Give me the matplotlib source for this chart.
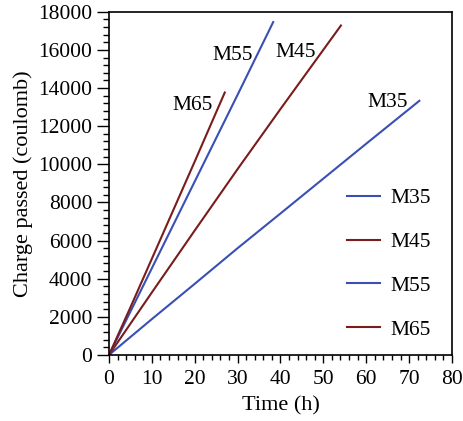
import matplotlib
matplotlib.use("Agg")
import matplotlib.pyplot as plt
from matplotlib.ticker import MultipleLocator

plt.rcParams['font.family'] = ['Liberation Serif', 'DejaVu Serif']

# time (h) and charge passed (coulomb) for each mix
t_m35 = [0, 10, 20, 30, 40, 50, 60, 72.4]
q_m35 = [0, 1880, 3730, 5600, 7420, 9250, 11080, 13330]
t_m45 = [0, 10, 20, 30, 40, 54.1]
q_m45 = [0, 3280, 6530, 9750, 12900, 17280]
t_m55 = [0, 10, 20, 30, 38.3]
q_m55 = [0, 4550, 9100, 13650, 17460]
t_m65 = [0, 5, 10, 15, 20, 27.0]
q_m65 = [0, 2500, 5050, 7600, 10150, 13765]

names = ['M35', 'M45', 'M55', 'M65']
blue = '#3a4fb4'
red = '#7a1c1c'

fig = plt.figure(figsize=(4.64, 4.21), dpi=100)
ax = fig.add_axes([0.235, 0.157, 0.739, 0.815])

ax.plot(t_m35, q_m35, color=blue, lw=1.5, label=names[0])
ax.plot(t_m45, q_m45, color=red, lw=1.5, label=names[1])
ax.plot(t_m55, q_m55, color=blue, lw=1.5, label=names[2])
ax.plot(t_m65, q_m65, color=red, lw=1.5, label=names[3])

# curve labels near line ends
ax.text(69.7, 13010, 'M35', ha='right', va='baseline', fontsize=15.5)
ax.text(48.3, 15640, 'M45', ha='right', va='baseline', fontsize=15.5)
ax.text(33.6, 15480, 'M55', ha='right', va='baseline', fontsize=15.5)
ax.text(24.3, 12860, 'M65', ha='right', va='baseline', fontsize=15.5)

ax.set_xlim(0, 80)
ax.set_ylim(0, 18000)
ax.xaxis.set_major_locator(MultipleLocator(10))
ax.xaxis.set_minor_locator(MultipleLocator(2))
ax.yaxis.set_major_locator(MultipleLocator(2000))
ax.yaxis.set_minor_locator(MultipleLocator(400))
ax.tick_params(which='both', direction='out', width=1, labelsize=15.5)
ax.tick_params(axis='x', which='major', length=6, pad=5)
ax.tick_params(axis='x', which='minor', length=3.6)
ax.tick_params(axis='y', which='major', length=9, pad=3)
ax.tick_params(axis='y', which='minor', length=4.3)
for s in ax.spines.values():
    s.set_linewidth(1.2)

ax.set_xlabel('Time (h)', fontsize=16, labelpad=5)
ax.set_ylabel('Charge passed (coulomb)', fontsize=16, labelpad=4)

ax.legend(loc='lower right', bbox_to_anchor=(0.995, -0.012), frameon=False,
          fontsize=15.5, handlelength=1.5, labelspacing=1.1, handletextpad=0.5)

fig.savefig('out.png', dpi=100)
